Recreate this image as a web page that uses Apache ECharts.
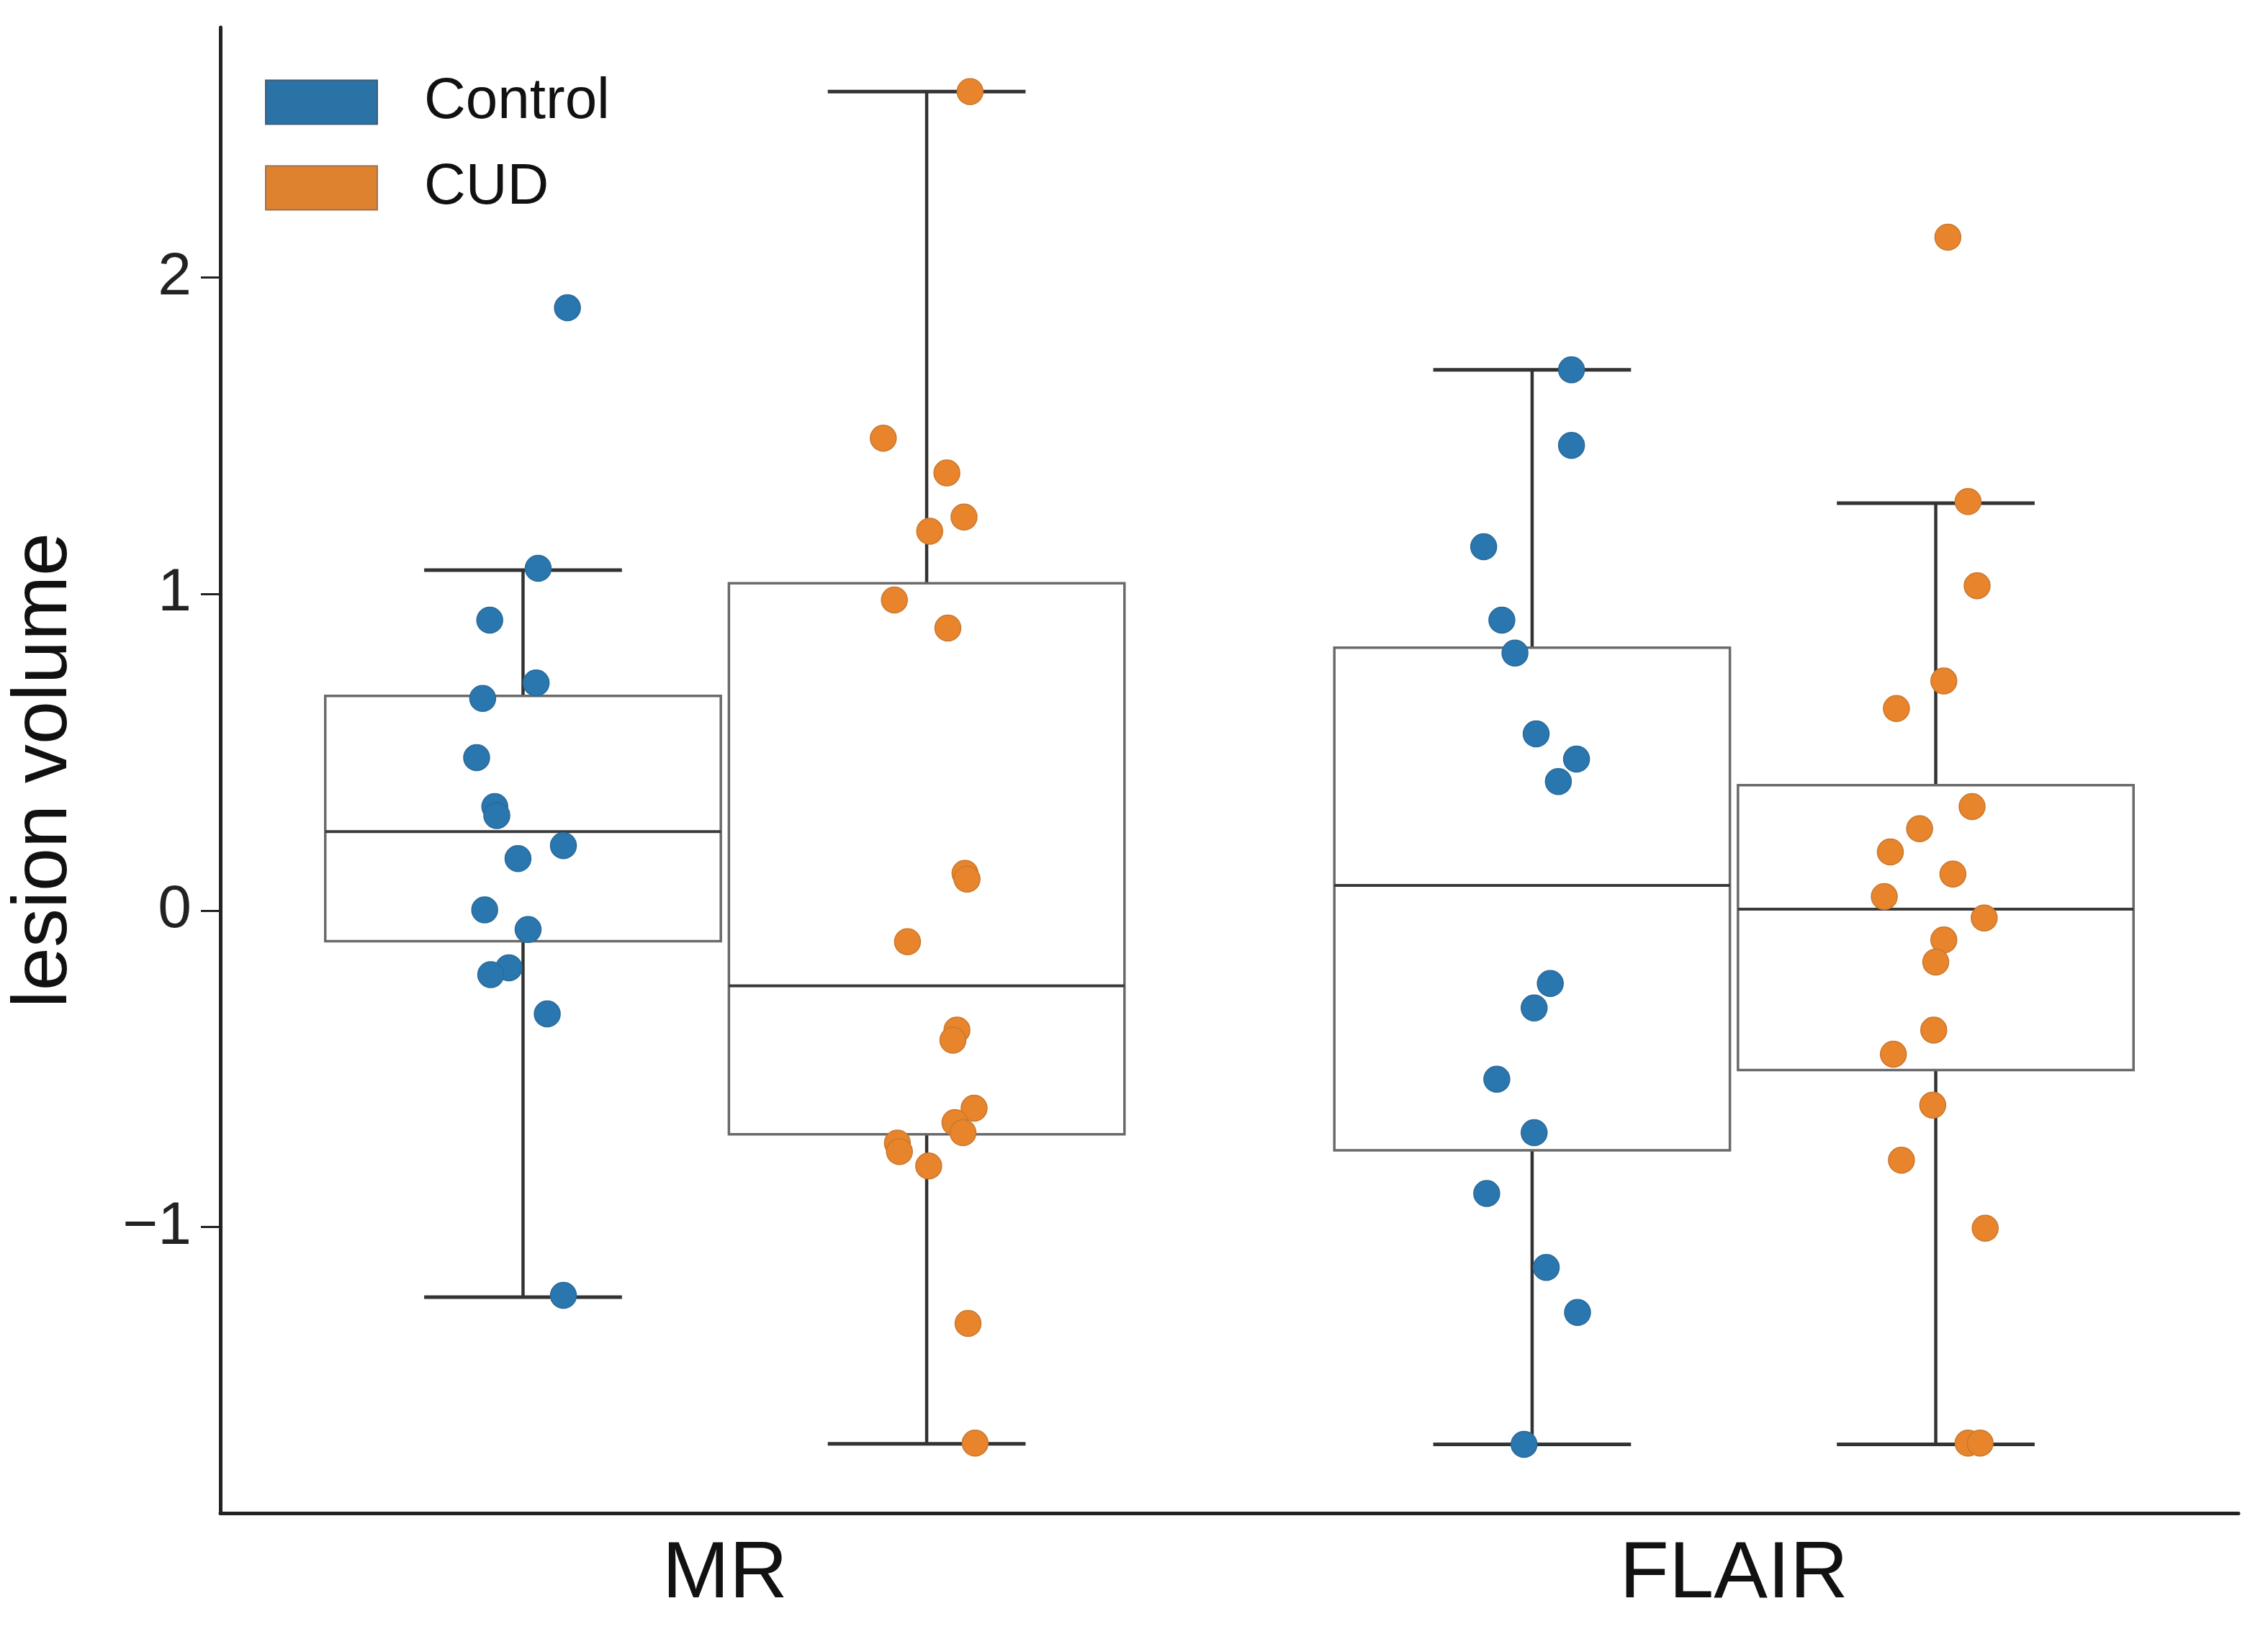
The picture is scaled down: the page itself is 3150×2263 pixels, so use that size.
<!DOCTYPE html>
<html>
<head>
<meta charset="utf-8">
<script src="https://cdn.jsdelivr.net/npm/echarts@6/dist/echarts.min.js"></script>
<style>
  html, body { margin: 0; padding: 0; background: #fff; }
  #container { width: 3150px; height: 2263px; }
</style>
</head>
<body>
<div id="container"></div>
<script>
var categories = ['MR', 'FLAIR'];
var hues = ['Control', 'CUD'];
var yTicks = [-1, 0, 1, 2];

// box stats per category: [lower whisker, q1, median, q3, upper whisker]
var controlStats = [[-1.222, -0.097, 0.249, 0.678, 1.075], [-1.687, -0.758, 0.079, 0.830, 1.708]];
var cudStats = [[-1.685, -0.707, -0.238, 1.034, 2.587], [-1.687, -0.504, 0.004, 0.396, 1.287]];

// points: [jitter, value]
var controlMR = [[0.044, 1.904], [0.015, 1.081], [-0.033, 0.917], [0.013, 0.719], [-0.040, 0.670], [-0.046, 0.483],
  [-0.028, 0.328], [-0.026, 0.300], [0.040, 0.205], [-0.005, 0.164], [-0.038, 0.002], [0.005, -0.060],
  [-0.014, -0.181], [-0.032, -0.203], [0.024, -0.327], [0.040, -1.216]];
var cudMR = [[0.043, 2.587], [-0.043, 1.492], [0.020, 1.382], [0.037, 1.243], [0.003, 1.198], [-0.032, 0.981],
  [0.021, 0.892], [0.038, 0.117], [0.040, 0.099], [-0.019, -0.099], [0.030, -0.378], [0.026, -0.410],
  [0.047, -0.625], [0.028, -0.670], [0.036, -0.702], [-0.029, -0.735], [-0.027, -0.762], [0.002, -0.807],
  [0.041, -1.305], [0.048, -1.683]];
var controlFLAIR = [[0.039, 1.708], [0.039, 1.469], [-0.048, 1.149], [-0.030, 0.917], [-0.017, 0.813], [0.004, 0.558],
  [0.044, 0.478], [0.026, 0.407], [0.018, -0.231], [0.002, -0.308], [-0.035, -0.533], [0.002, -0.702],
  [-0.045, -0.894], [0.014, -1.128], [0.045, -1.270], [-0.008, -1.687]];
var cudFLAIR = [[0.012, 2.127], [0.032, 1.292], [0.041, 1.026], [0.008, 0.725], [-0.039, 0.638], [0.036, 0.328],
  [-0.016, 0.258], [-0.045, 0.185], [0.017, 0.115], [-0.051, 0.044], [0.048, -0.024], [0.008, -0.093],
  [0.000, -0.163], [-0.002, -0.378], [-0.042, -0.454], [-0.003, -0.615], [-0.034, -0.789], [0.049, -1.004],
  [0.032, -1.683], [0.044, -1.683]];

var blue = '#2a76ae';
var orange = '#e8842c';
var hueOffset = 0.2;
var boxWidth = 0.392;
var capWidth = 0.196;

function boxData(stats, off) {
    return stats.map(function (s, i) { return [i + off].concat(s); });
}
function pointData(groups, off) {
    var out = [];
    groups.forEach(function (pts, i) {
        pts.forEach(function (p) { out.push([i + off + p[0], p[1]]); });
    });
    return out;
}

function renderBox(params, api) {
    var x = api.value(0);
    var half = api.size([boxWidth, 0])[0] / 2;
    var capHalf = api.size([capWidth, 0])[0] / 2;
    var low = api.coord([x, api.value(1)]);
    var q1 = api.coord([x, api.value(2)]);
    var med = api.coord([x, api.value(3)]);
    var q3 = api.coord([x, api.value(4)]);
    var high = api.coord([x, api.value(5)]);
    var cx = low[0];
    var wl = { stroke: '#333', lineWidth: 4.5 };
    return {
        type: 'group',
        children: [
            { type: 'line', shape: { x1: cx, y1: q3[1], x2: cx, y2: high[1] }, style: wl },
            { type: 'line', shape: { x1: cx, y1: q1[1], x2: cx, y2: low[1] }, style: wl },
            { type: 'line', shape: { x1: cx - capHalf, y1: high[1], x2: cx + capHalf, y2: high[1] }, style: { stroke: '#333', lineWidth: 5 } },
            { type: 'line', shape: { x1: cx - capHalf, y1: low[1], x2: cx + capHalf, y2: low[1] }, style: { stroke: '#333', lineWidth: 5 } },
            { type: 'rect', shape: { x: cx - half, y: q3[1], width: half * 2, height: q1[1] - q3[1] },
              style: { fill: 'rgba(255,255,255,0)', stroke: '#6a6a6a', lineWidth: 3.5 } },
            { type: 'line', shape: { x1: cx - half, y1: med[1], x2: cx + half, y2: med[1] }, style: { stroke: '#3a3a3a', lineWidth: 4 } }
        ]
    };
}

var myChart = echarts.init(document.getElementById('container'));
myChart.setOption({
    backgroundColor: '#fff',
    animation: false,
    grid: { left: 297, right: 41, top: 38, bottom: 161 },
    legend: {
        left: 368,
        top: 102,
        orient: 'vertical',
        padding: 0,
        itemWidth: 155,
        itemHeight: 61,
        itemGap: 39,
        textStyle: {
            fontFamily: "'Liberation Sans', sans-serif",
            fontSize: 80,
            lineHeight: 61,
            color: '#111',
            padding: [0, 0, 0, 60]
        },
        data: [
            { name: 'Control', icon: 'rect', itemStyle: { color: '#2b72a6', borderColor: '#3d5f78', borderWidth: 2 } },
            { name: 'CUD', icon: 'rect', itemStyle: { color: '#df822f', borderColor: '#9a7350', borderWidth: 2 } }
        ]
    },
    xAxis: [
        {
            type: 'category',
            data: categories,
            boundaryGap: true,
            axisLine: { onZero: false, lineStyle: { color: '#222', width: 5 } },
            axisTick: { alignWithLabel: true, length: 30, lineStyle: { color: '#222', width: 3 } },
            axisLabel: {
                margin: 30,
                fontSize: 112,
                color: '#111',
                fontFamily: "'Liberation Sans', sans-serif"
            },
            splitLine: { show: false }
        },
        {
            type: 'value',
            min: -0.5,
            max: 1.5,
            show: false,
            axisLine: { onZero: false },
            splitLine: { show: false }
        }
    ],
    yAxis: {
        type: 'value',
        min: -1.904,
        max: 2.79,
        name: 'lesion volume',
        nameLocation: 'middle',
        nameRotate: 90,
        nameGap: 190,
        nameTextStyle: { fontSize: 108, color: '#111', fontFamily: "'Liberation Sans', sans-serif" },
        axisLine: { show: true, onZero: false, lineStyle: { color: '#222', width: 5 } },
        axisTick: { show: true, length: 27, customValues: yTicks, lineStyle: { color: '#222', width: 3 } },
        axisLabel: {
            customValues: yTicks,
            margin: 40,
            fontSize: 84,
            color: '#222',
            fontFamily: "'Liberation Sans', sans-serif",
            formatter: function (v) { return v < 0 ? '\u2212' + Math.abs(v) : String(v); }
        },
        splitLine: { show: false }
    },
    series: [
        {
            name: 'boxes-control',
            type: 'custom',
            xAxisIndex: 1,
            yAxisIndex: 0,
            z: 1,
            renderItem: renderBox,
            data: boxData(controlStats, -hueOffset)
        },
        {
            name: 'boxes-cud',
            type: 'custom',
            xAxisIndex: 1,
            yAxisIndex: 0,
            z: 1,
            renderItem: renderBox,
            data: boxData(cudStats, hueOffset)
        },
        {
            name: 'Control',
            type: 'scatter',
            xAxisIndex: 1,
            yAxisIndex: 0,
            z: 3,
            symbolSize: 36,
            itemStyle: { color: blue, opacity: 1, borderColor: '#2a6a9a', borderWidth: 1.5 },
            data: pointData([controlMR, controlFLAIR], -hueOffset)
        },
        {
            name: 'CUD',
            type: 'scatter',
            xAxisIndex: 1,
            yAxisIndex: 0,
            z: 3,
            symbolSize: 36,
            itemStyle: { color: orange, opacity: 1, borderColor: '#c9782e', borderWidth: 1.5 },
            data: pointData([cudMR, cudFLAIR], hueOffset)
        }
    ]
});
</script>
</body>
</html>
